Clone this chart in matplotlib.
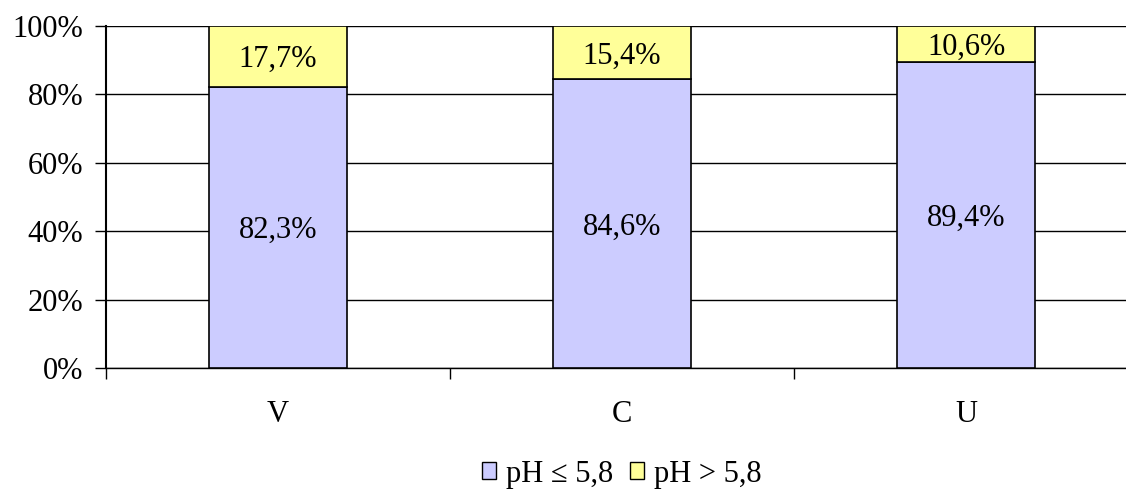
"""Stacked percentage bars: share of samples by pH class per site."""

import numpy as np
import matplotlib.pyplot as plt

CATEGORIES = ["V", "C", "U"]
LOW_PH     = [82.3, 84.6, 89.4]   # pH <= 5,8
HIGH_PH    = [17.7, 15.4, 10.6]   # pH > 5,8
SERIES     = ["pH ≤ 5,8", "pH > 5,8"]
Y_TICKS    = [0, 20, 40, 60, 80, 100]

COLOR_LOW  = "#CCCCFF"
COLOR_HIGH = "#FFFF99"
FS         = 22


def fmt(v):
    return f"{v:.1f}%".replace(".", ",")


def main():
    plt.rcParams["font.family"] = ["Liberation Serif", "DejaVu Serif"]

    fig = plt.figure(figsize=(11.26, 4.93), dpi=100)
    ax = fig.add_axes([106 / 1126, 1 - 368 / 493, 1032 / 1126, 342 / 493])

    x = np.arange(len(CATEGORIES))
    low = np.array(LOW_PH)
    high = np.array(HIGH_PH)

    ax.bar(x, low, width=0.4, color=COLOR_LOW, edgecolor="black",
           linewidth=1.2, label=SERIES[0], zorder=3)
    ax.bar(x, high, width=0.4, bottom=low, color=COLOR_HIGH,
           edgecolor="black", linewidth=1.2, label=SERIES[1], zorder=3)

    for xi, lo, hi in zip(x, low, high):
        ax.text(xi, lo / 2, fmt(lo), ha="center", va="center_baseline",
                fontsize=FS, zorder=4)
        ax.text(xi, lo + hi / 2, fmt(hi), ha="center", va="center_baseline",
                fontsize=FS, zorder=4)

    ax.set_xlim(-0.5, 2.5)
    ax.set_ylim(0, 100)
    ax.set_yticks(Y_TICKS)
    ax.set_yticklabels([f"{t}%" for t in Y_TICKS], fontsize=FS)
    ax.tick_params(axis="y", length=8, width=1, pad=8.5)

    ax.set_xticks(x)
    ax.set_xticklabels(CATEGORIES, fontsize=FS)
    ax.tick_params(axis="x", which="major", length=0, pad=23)
    ax.set_xticks([-0.5, 0.5, 1.5, 2.5], minor=True)
    ax.tick_params(axis="x", which="minor", length=8, width=1)

    ax.yaxis.grid(True, color="black", linewidth=1, zorder=0)
    ax.set_axisbelow(True)
    for side in ["top", "right"]:
        ax.spines[side].set_visible(False)
    ax.spines["left"].set_linewidth(1.5)
    ax.spines["bottom"].set_linewidth(1)
    ax.spines["left"].set_zorder(5)

    leg = ax.legend(loc="center", bbox_to_anchor=(0.5, -0.31), ncol=2,
                    frameon=False, fontsize=FS, handlelength=0.45,
                    handleheight=0.45, handletextpad=0.33, columnspacing=0.55)
    for h in leg.legend_handles:
        h.set_linewidth(1)

    fig.savefig("out.png", dpi=100)
    plt.close(fig)


if __name__ == "__main__":
    main()
